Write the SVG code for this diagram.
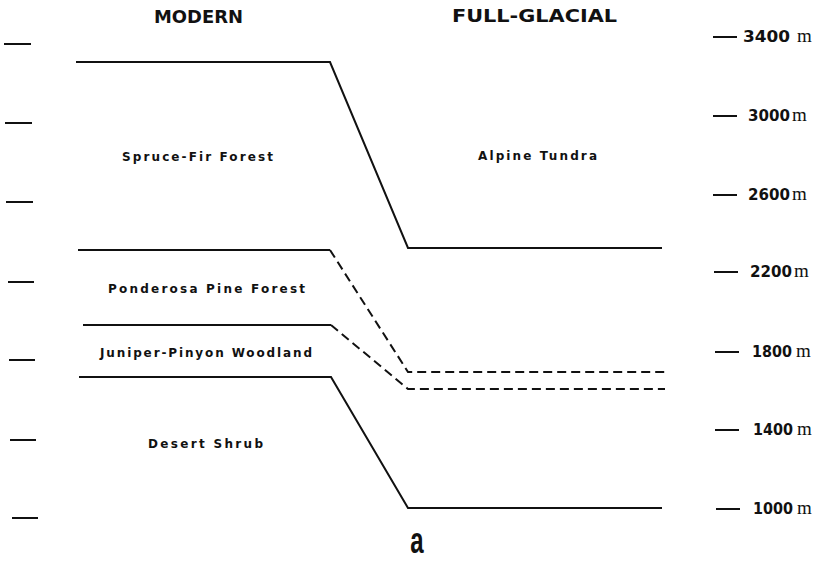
<svg xmlns="http://www.w3.org/2000/svg" width="822" height="562" viewBox="0 0 822 562">
  <style>
    .bg { fill: #ffffff; }
    .solid { fill: none; stroke: #111; stroke-width: 2; stroke-linejoin: miter; }
    .dash { fill: none; stroke: #111; stroke-width: 2; stroke-dasharray: 9 5; }
    .tick { stroke: #111; stroke-width: 2; }
    .head { font-family: "DejaVu Sans", "Liberation Sans", sans-serif; font-weight: bold; font-size: 17px; fill: #111; }
    .zone { font-family: "DejaVu Sans", "Liberation Sans", sans-serif; font-weight: bold; font-size: 12px; fill: #111; }
    .num { font-family: "DejaVu Sans", "Liberation Sans", sans-serif; font-weight: bold; font-size: 15px; fill: #111; }
    .unit { font-family: "Liberation Serif", "DejaVu Serif", serif; font-size: 19px; fill: #111; }
    .panel { font-family: "Liberation Sans", "DejaVu Sans", sans-serif; font-weight: bold; font-size: 32px; fill: #111; }
  </style>
  <rect class="bg" x="0" y="0" width="822" height="562"/>

  <!-- column headings -->
  <g id="headings">
    <text class="head" x="154" y="23" textLength="89" lengthAdjust="spacingAndGlyphs">MODERN</text>
    <text class="head" x="452" y="22" textLength="165" lengthAdjust="spacingAndGlyphs">FULL-GLACIAL</text>
  </g>

  <!-- left tick marks -->
  <g id="left-ticks">
    <line class="tick" x1="4" y1="44" x2="31" y2="44"/>
    <line class="tick" x1="5" y1="123" x2="32" y2="123"/>
    <line class="tick" x1="6" y1="202" x2="33" y2="202"/>
    <line class="tick" x1="8" y1="282" x2="34" y2="282"/>
    <line class="tick" x1="9" y1="360" x2="35" y2="360"/>
    <line class="tick" x1="10" y1="440" x2="36" y2="440"/>
    <line class="tick" x1="12" y1="518" x2="38" y2="518"/>
  </g>

  <!-- elevation scale -->
  <g id="scale">
    <line class="tick" x1="713" y1="37" x2="737" y2="37"/>
    <text class="num" x="743" y="42" textLength="47" lengthAdjust="spacingAndGlyphs">3400</text>
    <text class="unit" x="797" y="42">m</text>
    <line class="tick" x1="713" y1="116" x2="737" y2="116"/>
    <text class="num" x="748" y="121" textLength="42" lengthAdjust="spacingAndGlyphs">3000</text>
    <text class="unit" x="792" y="121">m</text>
    <line class="tick" x1="713" y1="195" x2="737" y2="195"/>
    <text class="num" x="748" y="200" textLength="42" lengthAdjust="spacingAndGlyphs">2600</text>
    <text class="unit" x="792" y="200">m</text>
    <line class="tick" x1="714" y1="272" x2="738" y2="272"/>
    <text class="num" x="750" y="277" textLength="42" lengthAdjust="spacingAndGlyphs">2200</text>
    <text class="unit" x="794" y="277">m</text>
    <line class="tick" x1="715" y1="352" x2="739" y2="352"/>
    <text class="num" x="752" y="357" textLength="40" lengthAdjust="spacingAndGlyphs">1800</text>
    <text class="unit" x="796" y="357">m</text>
    <line class="tick" x1="715" y1="430" x2="739" y2="430"/>
    <text class="num" x="753" y="435" textLength="40" lengthAdjust="spacingAndGlyphs">1400</text>
    <text class="unit" x="797" y="435">m</text>
    <line class="tick" x1="716" y1="509" x2="740" y2="509"/>
    <text class="num" x="753" y="514" textLength="40" lengthAdjust="spacingAndGlyphs">1000</text>
    <text class="unit" x="797" y="514">m</text>
  </g>

  <!-- zone boundaries, modern to full-glacial -->
  <g id="boundaries">
    <polyline class="solid" points="76,62 330,62 408,248 662,248"/>
    <polyline class="solid" points="78,250 330,250"/>
    <polyline class="dash" points="330,250 408,372 665,372"/>
    <polyline class="solid" points="83,325 331,325"/>
    <polyline class="dash" points="331,325 408,389 665,389"/>
    <polyline class="solid" points="79,377 331,377 408,508 662,508"/>
  </g>

  <!-- vegetation zones -->
  <g id="zone-spruce-fir"><text class="zone" x="122" y="161" textLength="151" lengthAdjust="spacing">Spruce-Fir Forest</text></g>
  <g id="zone-alpine-tundra"><text class="zone" x="478" y="160" textLength="119" lengthAdjust="spacing">Alpine Tundra</text></g>
  <g id="zone-ponderosa"><text class="zone" x="108" y="293" textLength="197" lengthAdjust="spacing">Ponderosa Pine Forest</text></g>
  <g id="zone-juniper-pinyon"><text class="zone" x="100" y="357" textLength="212" lengthAdjust="spacing">Juniper-Pinyon Woodland</text></g>
  <g id="zone-desert-shrub"><text class="zone" x="148" y="448" textLength="115" lengthAdjust="spacing">Desert Shrub</text></g>

  <!-- panel letter, condensed -->
  <g id="panel-label">
    <text class="panel" x="0" y="0" text-anchor="middle" transform="translate(417 553) scale(0.75 1.15)">a</text>
  </g>
</svg>
